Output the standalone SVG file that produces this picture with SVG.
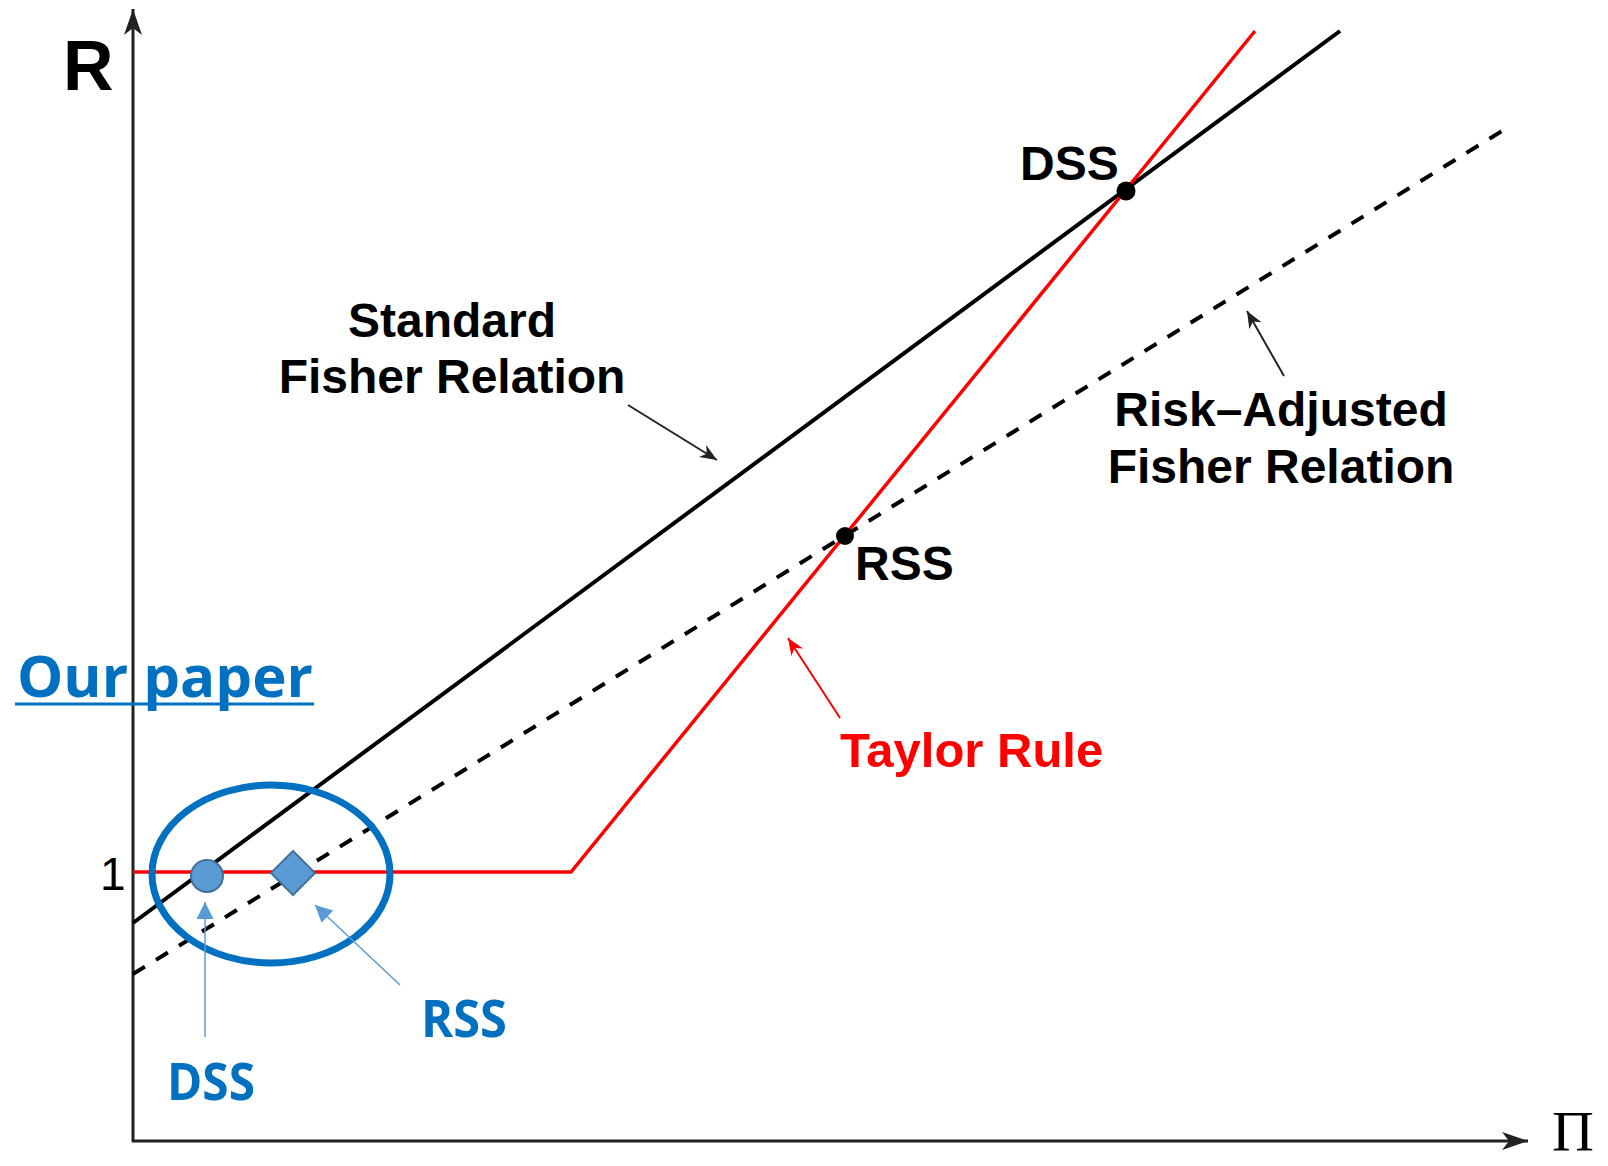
<svg xmlns="http://www.w3.org/2000/svg" width="1608" height="1166" viewBox="0 0 1608 1166">
<style>
.lbl{font-family:"Liberation Sans",Arial,sans-serif;font-weight:bold;font-size:48px;fill:#000}
.blue{font-family:"Open Sans","Liberation Sans",sans-serif;font-weight:bold;fill:#0070C0}
.axis{stroke:#222;stroke-width:3;fill:none}
.thin{stroke:#222;stroke-width:2;fill:none}
</style>
<defs>
<marker id="axhead" markerUnits="userSpaceOnUse" markerWidth="30" markerHeight="24" viewBox="-28 -12 30 24" refX="0" refY="0" orient="auto">
<path d="M0,0 L-26,-9 L-19,0 L-26,9 Z" fill="#222"/>
</marker>
<marker id="blackhead" markerUnits="userSpaceOnUse" markerWidth="22" markerHeight="16" viewBox="-20 -8 22 16" refX="0" refY="0" orient="auto">
<path d="M0,0 L-17,-7 L-12,0 L-17,7 Z" fill="#222"/>
</marker>
<marker id="redhead" markerUnits="userSpaceOnUse" markerWidth="22" markerHeight="16" viewBox="-20 -8 22 16" refX="0" refY="0" orient="auto">
<path d="M0,0 L-17,-7 L-12,0 L-17,7 Z" fill="#FF0000"/>
</marker>
<marker id="bluehead" markerUnits="userSpaceOnUse" markerWidth="22" markerHeight="20" viewBox="-20 -10 22 20" refX="0" refY="0" orient="auto">
<path d="M0,0 L-17,-8.5 L-17,8.5 Z" fill="#5B9BD5"/>
</marker>
</defs>

<g id="axes">
<line class="axis" x1="133" y1="1142" x2="133" y2="9" marker-end="url(#axhead)"/>
<line class="axis" x1="132" y1="1141" x2="1528" y2="1141" marker-end="url(#axhead)"/>
<text x="63" y="90" font-family="Liberation Sans,Arial,sans-serif" font-weight="bold" font-size="70">R</text>
<text x="100" y="890" font-family="Liberation Sans,Arial,sans-serif" font-size="46">1</text>
<text x="1552" y="1151" font-family="Liberation Serif,Times New Roman,serif" font-size="58">Π</text>
</g>

<g id="curves">
<line id="standard-fisher" x1="133" y1="923" x2="1340" y2="31" stroke="#000" stroke-width="4"/>
<line id="risk-adjusted-fisher" x1="133" y1="974" x2="1502" y2="131" stroke="#000" stroke-width="4" stroke-dasharray="14 13"/>
<polyline id="taylor-rule" points="133,872 571,872 1255,31" fill="none" stroke="#FF0000" stroke-width="3.5"/>
</g>

<g id="node-dss-top">
<circle cx="1126" cy="191" r="9.5" fill="#000"/>
<text class="lbl" x="1020" y="180">DSS</text>
</g>
<g id="node-rss-top">
<circle cx="845" cy="536" r="9" fill="#000"/>
<text class="lbl" x="855" y="580">RSS</text>
</g>

<g id="label-standard">
<text class="lbl" x="452" y="337" text-anchor="middle">Standard</text>
<text class="lbl" x="452" y="393" text-anchor="middle">Fisher Relation</text>
</g>
<g id="label-risk">
<text class="lbl" x="1281" y="426" text-anchor="middle">Risk–Adjusted</text>
<text class="lbl" x="1281" y="483" text-anchor="middle">Fisher Relation</text>
</g>
<g id="label-taylor">
<text class="lbl" x="840" y="767" style="fill:#FF0000;font-size:49px">Taylor Rule</text>
</g>

<g id="our-paper">
<text class="blue" x="17" y="697" font-size="58" textLength="296" lengthAdjust="spacingAndGlyphs">Our paper</text>
<line x1="15" y1="704" x2="314" y2="704" stroke="#0070C0" stroke-width="3"/>
</g>

<g id="ellipse-group">
<ellipse cx="271" cy="874" rx="119" ry="89" fill="none" stroke="#0070C0" stroke-width="7"/>
</g>
<g id="node-dss-ours">
<circle cx="207" cy="876" r="16" fill="#5B9BD5" stroke="#41719C" stroke-width="2"/>
<text class="blue" x="167" y="1100" font-size="52" textLength="88" lengthAdjust="spacingAndGlyphs">DSS</text>
</g>
<g id="node-rss-ours">
<path d="M293,851 L315,873 L293,895 L271,873 Z" fill="#5B9BD5" stroke="#41719C" stroke-width="2"/>
<text class="blue" x="421" y="1037" font-size="52" textLength="86" lengthAdjust="spacingAndGlyphs">RSS</text>
</g>

<g id="connectors">
<line class="thin" x1="628" y1="405" x2="717" y2="460" marker-end="url(#blackhead)"/>
<line class="thin" x1="1284" y1="376" x2="1247" y2="311" marker-end="url(#blackhead)"/>
<line x1="840" y1="718" x2="788" y2="638" stroke="#FF0000" stroke-width="2" marker-end="url(#redhead)"/>
<line x1="205" y1="1037" x2="205" y2="902" stroke="#5B9BD5" stroke-width="1.5" marker-end="url(#bluehead)"/>
<line x1="400" y1="985" x2="315" y2="905" stroke="#5B9BD5" stroke-width="1.5" marker-end="url(#bluehead)"/>
</g>
</svg>
